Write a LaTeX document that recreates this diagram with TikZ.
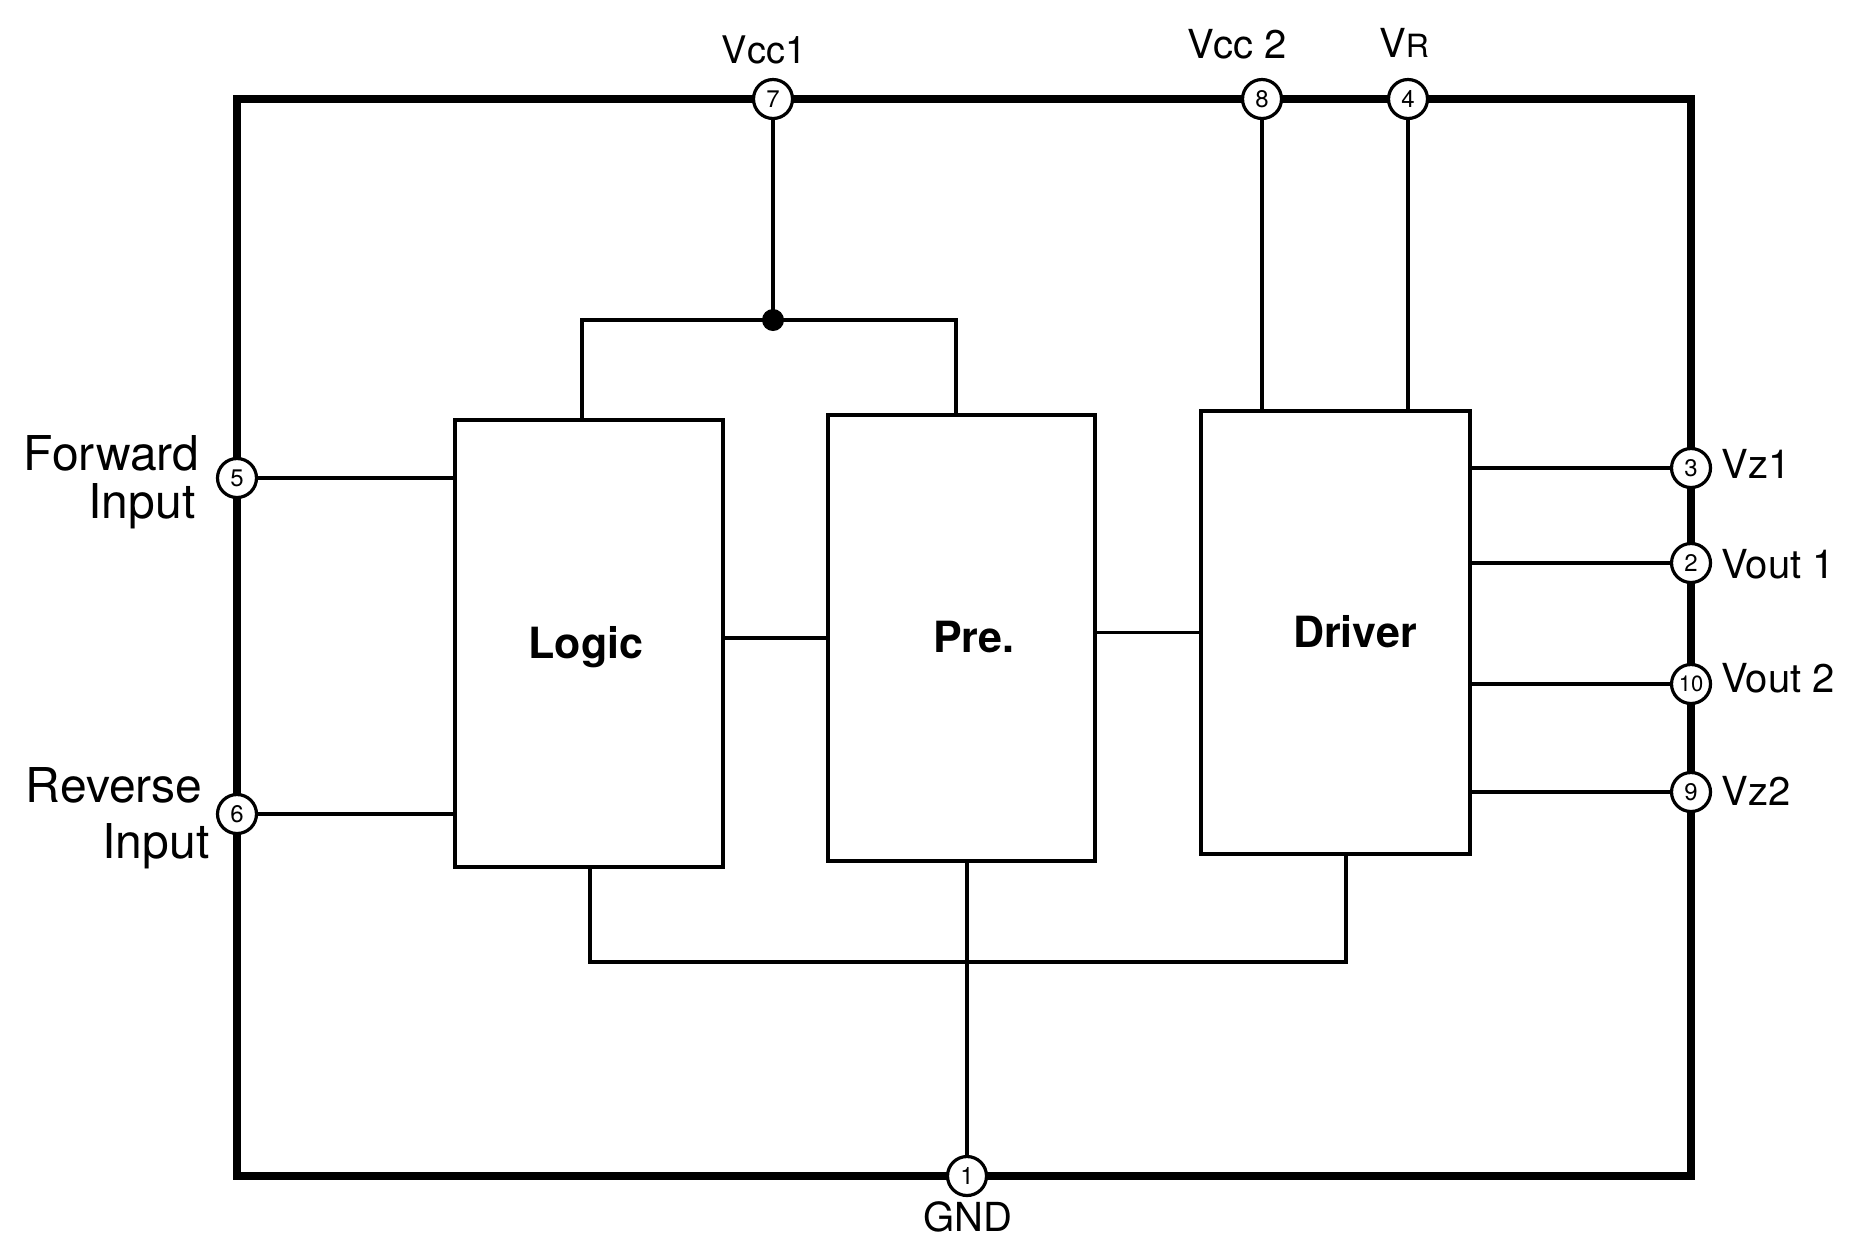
\documentclass[tikz,border=0pt]{standalone}
\usepackage{fontspec}
\setmainfont{TeX Gyre Heros}
\begin{document}
\begin{tikzpicture}[x=0.5pt,y=-0.5pt,
  outer/.style={line width=4pt},
  wire/.style={line width=1.7pt},
  blockbox/.style={draw,line width=2.2pt,inner sep=0pt},
  pin/.style={circle,draw,fill=white,line width=1.6pt,minimum size=19.5pt,inner sep=0pt,font=\fontsize{12}{12}\selectfont},
  lbl/.style={inner sep=0pt,font=\fontsize{20}{20}\selectfont},
  biglbl/.style={inner sep=0pt,font=\fontsize{24}{24}\selectfont},
  blklbl/.style={inner sep=0pt,font=\fontsize{21.5}{21.5}\selectfont\bfseries},
  dot/.style={circle,fill,inner sep=0pt,minimum size=11pt}
]
\useasboundingbox (0,0) rectangle (1850,1239);
% package outline
\draw[outer] (237,99) rectangle (1691,1176);
% blocks
\node[blockbox,minimum width=134pt,minimum height=223.5pt] (logic) at (589,643.5) {};
\node[blockbox,minimum width=133.5pt,minimum height=223pt] (pre) at (961.5,638) {};
\node[blockbox,minimum width=134.5pt,minimum height=221.5pt] (driver) at (1335.5,632.5) {};
\node[blklbl,anchor=base] (tlogic) at (586,658) {Logic};
\node[blklbl,anchor=base] (tpre) at (974,652) {Pre.};
\node[blklbl,anchor=base] (tdriver) at (1355,647) {Driver};
% pins
\node[pin] (p7) at (773,99) {7};
\node[pin] (p8) at (1262,99) {8};
\node[pin] (p4) at (1408,99) {4};
\node[pin] (p5) at (237,478) {5};
\node[pin] (p6) at (237,814) {6};
\node[pin] (p3) at (1691,468) {3};
\node[pin] (p2) at (1691,563) {2};
\node[pin] (p10) at (1691,684) {\fontsize{11}{11}\selectfont 10};
\node[pin] (p9) at (1691,792) {9};
\node[pin] (p1) at (967,1176) {1};
% wiring
\coordinate (jl) at (582,320);
\coordinate (jr) at (956,320);
\node[dot] (j) at (773,320) {};
\draw[wire] (p7) -- (j.center);
\draw[wire] (logic.north -| jl) -- (jl) -- (jr) -- (pre.north -| jr);
\draw[wire] (p8) -- (p8 |- driver.north);
\draw[wire] (p4) -- (p4 |- driver.north);
\draw[wire] (p5) -- (p5 -| logic.west);
\draw[wire] (p6) -- (p6 -| logic.west);
\draw[wire] (logic.east |- pre.west) -- (pre.west);
\draw[wire] (pre.east |- driver.west) -- (driver.west);
\draw[wire] (driver.east |- p3) -- (p3);
\draw[wire] (driver.east |- p2) -- (p2);
\draw[wire] (driver.east |- p10) -- (p10);
\draw[wire] (driver.east |- p9) -- (p9);
\coordinate (bl) at (590,962);
\coordinate (br) at (1346,962);
\draw[wire] (logic.south -| bl) -- (bl) -- (br) -- (driver.south -| br);
\draw[wire] (pre.south -| p1) -- (p1);
% labels
\node[lbl,anchor=base,font=\fontsize{19}{19}\selectfont] (lvcc1) at (764,63) {Vcc1};
\node[lbl,anchor=base] (lvcc2) at (1237,58) {Vcc 2};
\node[lbl,anchor=base] (lvr) at (1404,57) {V{\fontsize{16}{16}\selectfont R}};
\node[biglbl,anchor=base east] (lfwd) at (200,470) {Forward};
\node[biglbl,anchor=base east] (lfin) at (196,518) {Input};
\node[biglbl,anchor=base east] (lrev) at (203,802) {Reverse};
\node[biglbl,anchor=base east] (lrin) at (210,858) {Input};
\node[lbl,anchor=base west] (lvz1) at (1721,478) {Vz1};
\node[lbl,anchor=base west] (lvo1) at (1721,578) {Vout 1};
\node[lbl,anchor=base west] (lvo2) at (1721,692) {Vout 2};
\node[lbl,anchor=base west] (lvz2) at (1721,805) {Vz2};
\node[lbl,anchor=base] (lgnd) at (968,1231) {GND};
\end{tikzpicture}
\end{document}
